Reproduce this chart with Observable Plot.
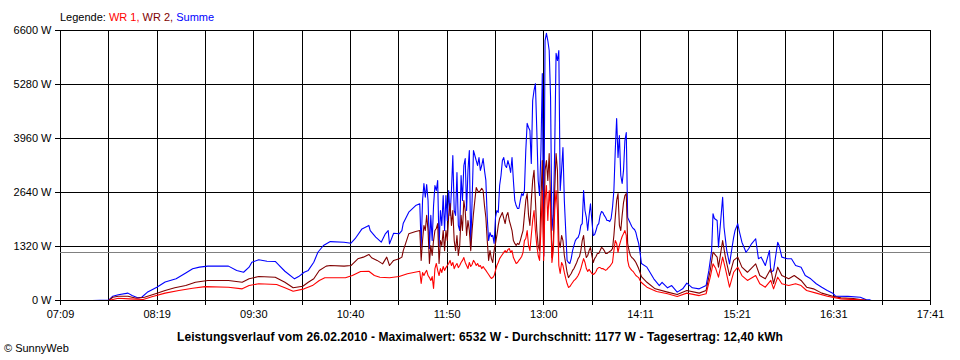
<!DOCTYPE html>
<html><head><meta charset="utf-8">
<script src="https://cdn.jsdelivr.net/npm/d3@7"></script>
<script src="https://cdn.jsdelivr.net/npm/@observablehq/plot@0.6"></script>
<style>
body{margin:0;background:#fff;}
#wrap{position:relative;width:960px;height:360px;font-family:"Liberation Sans",Arial,sans-serif;overflow:hidden;}
#wrap svg{position:absolute;left:0;top:0;}
.t{position:absolute;font-size:11px;white-space:nowrap;line-height:12px;}
</style></head><body>
<div id="wrap"></div>
<script>
// ---- text ----
const legendTitle = "Legende:";
const seriesNames = ["WR 1", "WR 2", "Summe"];
const seriesColors = ["#ff0000", "#800000", "#0000ff"];
const caption = "Leistungsverlauf vom 26.02.2010 - Maximalwert: 6532 W - Durchschnitt: 1177 W - Tagesertrag: 12,40 kWh";
const credit = "\u00A9 SunnyWeb";

// ---- axes ----
const xLabels = ["07:09","08:19","09:30","10:40","11:50","13:00","14:11","15:21","16:31","17:41"];
const yTicks = [0, 1320, 2640, 3960, 5280, 6600];
const averageW = 1177;

// ---- Summe (blue) ----
const sumEarlyT = ["7:32","7:44","7:47","7:51","7:58","8:01","8:05","8:08","8:12","8:19","8:25","8:33","8:40","8:45","8:50","8:56","9:11","9:17","9:22","9:26","9:28","9:33","9:39","9:45","9:48","9:52","9:59","10:02","10:06","10:09","10:13","10:16","10:20","10:25","10:35","10:40","10:43","10:48","10:53","10:54","10:58","11:02","11:05","11:07","11:08","11:11","11:15","11:17","11:18","11:22","11:27","11:30"];
const sumEarlyW = [0,10,105,140,180,120,65,80,200,325,450,530,670,775,815,840,840,735,690,815,935,995,960,955,855,715,530,585,690,735,935,1180,1345,1440,1425,1400,1510,1750,1835,1710,1550,1425,1630,1710,1385,1645,1630,1710,1890,2160,2320,2365];

// ---- minute samples around noon (shared times) ----
const midT = [
"11:31","11:32","11:33","11:34","11:35","11:36","11:37","11:38","11:39","11:40","11:41","11:42","11:43","11:44","11:45","11:46","11:47","11:48","11:49","11:50","11:51","11:52","11:53","11:54","11:55","11:56","11:57","11:58","11:59",
"12:00","12:01","12:02","12:03","12:04","12:05","12:06","12:07","12:08","12:09","12:10","12:11","12:12","12:13","12:14","12:15","12:16","12:17","12:18","12:19","12:20","12:21","12:22","12:23","12:24","12:25","12:26","12:27","12:28","12:29",
"12:30","12:31","12:32","12:33","12:34","12:35","12:36","12:37","12:38","12:39","12:40","12:41","12:42","12:43","12:44","12:45","12:46","12:47","12:48","12:49","12:50","12:51","12:52","12:53","12:54","12:55","12:56","12:57","12:58","12:59",
"13:00","13:01","13:02","13:03","13:04","13:05","13:06","13:07","13:08","13:09","13:10","13:11","13:12","13:13","13:14","13:15","13:16","13:17","13:18","13:19","13:20","13:21","13:22","13:23","13:24","13:25","13:26","13:27","13:28","13:29",
"13:30","13:31","13:32","13:33","13:34","13:35","13:36","13:37","13:38","13:39","13:40","13:41","13:42","13:43","13:44","13:45","13:46","13:47","13:48","13:49","13:50","13:51","13:52","13:53","13:54","13:55","13:56","13:57","13:58","13:59",
"14:00","14:01","14:02","14:03","14:04","14:05","14:06","14:07","14:08","14:09","14:10","14:11"];

const sumMidW = [
1300,2445,2860,2525,2835,2445,1270,2080,1465,2320,2810,2690,2935,1320,2200,1835,2565,1710,2565,1955,2690,2080,2690,3545,2200,2080,3130,1835,1710,
3055,2445,3300,3470,2200,3180,3665,1320,2445,3665,3545,3420,3300,3495,3180,3300,3470,3180,2935,2030,1465,1660,1565,1590,1395,2030,2200,2150,2810,3055,
3420,3495,3300,3250,3420,3300,3130,3495,2935,2445,2320,2250,2250,2445,2615,2565,2690,3665,4330,4230,4155,3350,4890,5135,5300,4155,2935,2565,3665,5550,
1075,6355,6532,6355,6110,4960,1710,2080,3665,6040,5865,6110,2690,3180,3740,2445,1710,980,930,905,1025,1220,1345,1465,1515,1540,1635,1835,1880,2690,
2200,2030,1710,2080,2365,1955,1590,1610,1710,1835,1880,2080,2175,2150,2080,2030,1955,1955,1930,2005,2275,2690,3665,4450,3495,4035,3055,2860,3180,3910,
4105,2030,1955,1880,1810,1760,1735,1660,1515,1395,1175,905];

const sumLateT = ["14:15","14:20","14:24","14:26","14:30","14:33","14:37","14:41","14:44","14:48","14:53","14:58","15:00","15:02","15:03","15:04","15:06","15:07","15:10","15:11","15:13","15:15","15:18","15:19","15:21","15:22","15:24","15:27","15:29","15:31","15:34","15:36","15:38","15:41","15:44","15:45","15:47","15:50","15:51","15:53","15:57","16:00","16:03","16:07","16:10","16:14","16:18","16:22","16:26","16:30","16:32","16:41","16:50","16:54","16:57","16:58"];
const sumLateW = [815,530,365,445,310,365,205,285,425,310,285,365,735,1220,2120,2005,1955,1305,2525,1790,1220,895,1545,1710,1875,1710,1425,1180,1270,1385,1510,1020,1060,855,1220,690,735,1425,1345,1060,1020,1020,855,815,610,530,410,325,245,180,105,100,80,25,15,0];

// ---- WR 2 (dark red) ----
const wr2EarlyT = ["7:44","7:47","7:51","7:58","8:04","8:10","8:18","8:25","8:32","8:40","8:47","8:56","9:11","9:21","9:26","9:33","9:45","9:52","9:58","10:05","10:09","10:13","10:17","10:22","10:25","10:35","10:40","10:45","10:49","10:53","10:55","10:59","11:03","11:06","11:08","11:11","11:15","11:17","11:18","11:22","11:27","11:30"];
const wr2EarlyW = [0,80,105,105,55,80,165,245,310,365,445,490,490,445,530,585,570,445,310,350,445,530,735,840,855,840,855,1020,1060,1125,1045,980,895,1060,855,980,1020,1060,1220,1630,1685,1710];
const wr2MidW = [
980,1465,1835,1710,2080,1710,905,1345,1100,1465,1710,1760,1880,905,1465,1345,1710,1220,1710,1465,2080,2370,1835,2200,1465,1220,1590,1100,1345,
2080,1710,2445,2200,1590,1955,1710,1220,1710,2125,2445,2760,2690,2640,2690,2740,2690,2320,2030,1465,980,1220,1025,930,1220,1395,1590,1835,2005,2080,
2150,2005,1880,2080,2150,1955,1835,1710,1465,1395,1345,1395,1370,1465,1590,1710,2080,2445,2615,2080,1835,2445,2935,3180,2445,1710,1345,1220,2445,3420,
1100,3180,3420,2935,3595,2445,1050,1465,2690,3595,3180,1465,1295,1590,1465,1100,905,685,560,610,660,735,780,855,930,1025,1075,1220,1465,1590,
1220,1050,1100,1220,1295,1100,930,1025,1075,1150,1150,1220,1295,1270,1220,1150,1150,1175,1200,1220,1270,1590,2030,2445,2615,1835,1710,2080,2395,2565,
2615,1395,1220,1100,1050,1025,980,930,855,780,685,585];
const wr2LateT = ["14:15","14:21","14:30","14:37","14:44","14:53","14:58","15:01","15:03","15:06","15:07","15:10","15:12","15:15","15:18","15:21","15:24","15:28","15:34","15:37","15:41","15:45","15:47","15:50","15:53","15:58","16:02","16:07","16:11","16:16","16:22","16:30","16:36","16:45","16:50","16:54","16:55"];
const wr2LateW = [445,285,205,145,245,180,245,735,1180,1060,815,1465,1060,610,980,1060,815,690,895,610,530,775,410,815,610,530,610,490,325,285,180,105,65,50,25,10,0];

// ---- WR 1 (red) ----
const wr1EarlyT = ["7:44","7:47","7:51","7:59","8:09","8:16","8:25","8:35","8:45","8:54","9:11","9:21","9:26","9:33","9:46","9:52","9:58","10:06","10:12","10:17","10:21","10:36","10:41","10:47","10:53","10:57","11:01","11:08","11:15","11:21","11:30"];
const wr1EarlyW = [0,25,55,40,25,100,180,245,300,340,325,285,365,410,390,310,225,285,365,490,555,555,610,710,715,610,570,555,585,655,715];
const wr1MidW = [
415,685,610,685,735,610,560,490,585,295,780,905,735,610,780,685,830,735,805,855,905,980,855,930,780,855,905,805,855,
930,980,1050,930,855,780,930,830,880,980,930,855,905,830,855,780,830,780,735,685,635,585,540,560,610,735,855,930,1025,1075,
1125,1175,1220,1175,1245,1270,1175,1220,1050,980,905,930,980,1025,1075,1175,1465,1515,1710,1345,1220,1590,1955,2200,1710,1345,1100,980,1710,2690,
980,2445,2810,1955,2690,2200,930,1220,2200,2690,2200,855,660,930,855,685,540,415,320,340,390,440,490,515,560,610,685,780,905,1025,
930,780,710,760,710,660,635,660,710,780,805,805,780,780,760,735,760,805,830,880,930,1220,1465,1395,1175,1345,1465,1565,1635,1710,
1590,980,830,780,735,710,660,610,585,560,490,440];
const wr1LateT = ["14:15","14:22","14:30","14:37","14:44","14:53","14:58","15:01","15:03","15:05","15:07","15:10","15:12","15:15","15:18","15:21","15:24","15:28","15:34","15:37","15:41","15:45","15:47","15:50","15:53","15:58","16:03","16:07","16:11","16:18","16:26","16:36","16:50","16:54"];
const wr1LateW = [325,220,165,100,180,120,165,570,895,780,570,1060,780,325,690,815,610,490,610,410,325,490,285,570,410,365,410,365,245,180,105,40,15,0];

// ---- build ----
const toMin = s => { const [h, m] = s.split(":").map(Number); return h * 60 + m; };
const rows = (ts, ws) => ts.map((t, i) => ({t: toMin(t), w: ws[i]}));
const sumData = [...rows(sumEarlyT, sumEarlyW), ...rows(midT, sumMidW), ...rows(sumLateT, sumLateW)];
const wr2Data = [...rows(wr2EarlyT, wr2EarlyW), ...rows(midT, wr2MidW), ...rows(wr2LateT, wr2LateW)];
const wr1Data = [...rows(wr1EarlyT, wr1EarlyW), ...rows(midT, wr1MidW), ...rows(wr1LateT, wr1LateW)];

const x0 = toMin(xLabels[0]), x1 = toMin(xLabels[xLabels.length - 1]);
const nGrid = (xLabels.length - 1) * 2;
const gridTicks = d3.range(nGrid + 1).map(i => x0 + i * (x1 - x0) / nGrid);
const labelTicks = gridTicks.filter((d, i) => i % 2 === 0);
const labelOf = new Map(labelTicks.map((d, i) => [d, xLabels[i]]));

const crisp = {shapeRendering: "crispEdges"};
const chart = Plot.plot({
  width: 960, height: 360,
  marginTop: 30, marginBottom: 60, marginLeft: 60, marginRight: 30,
  style: {fontFamily: "'Liberation Sans', Arial, sans-serif", fontSize: "11px", color: "black", background: "transparent"},
  x: {type: "linear", domain: [x0, x1], label: null},
  y: {domain: [0, 6600], label: null},
  marks: [
    Plot.gridX(gridTicks, {stroke: "black", strokeOpacity: 1, ...crisp}),
    Plot.gridY(yTicks, {stroke: "black", strokeOpacity: 1, ...crisp}),
    Plot.ruleY([averageW], {stroke: "#808080", ...crisp}),
    Plot.line(sumData, {x: "t", y: "w", stroke: seriesColors[2], strokeWidth: 1.1}),
    Plot.line(wr2Data, {x: "t", y: "w", stroke: seriesColors[1], strokeWidth: 1.1}),
    Plot.line(wr1Data, {x: "t", y: "w", stroke: seriesColors[0], strokeWidth: 1.1}),
    Plot.axisY(yTicks, {tickSize: 5, tickPadding: 4, label: null, tickFormat: d => d + " W", ...crisp}),
    Plot.axisX(gridTicks, {tickSize: 5, label: null, tickFormat: () => "", ...crisp}),
    Plot.axisX(labelTicks, {tickSize: 0, tickPadding: 10, label: null, tickFormat: d => labelOf.get(d)}),
    Plot.ruleY([0], {stroke: "black", ...crisp})
  ]
});

const wrap = document.getElementById("wrap");
wrap.appendChild(chart);

const addText = (html, css) => {
  const d = document.createElement("div");
  d.className = "t";
  Object.assign(d.style, css);
  d.innerHTML = html;
  wrap.appendChild(d);
  return d;
};
addText(legendTitle + " " + seriesNames.map((n, i) =>
  `<span style="color:${seriesColors[i]}">${n}${i < seriesNames.length - 1 ? "," : ""}</span>`).join(" "),
  {left: "60px", top: "11px"});
addText(caption, {left: "0px", width: "960px", textAlign: "center", top: "331px", fontWeight: "bold", fontSize: "12px", letterSpacing: "0.1px"});
addText(credit, {left: "4px", top: "342px"});
</script>
</body></html>
